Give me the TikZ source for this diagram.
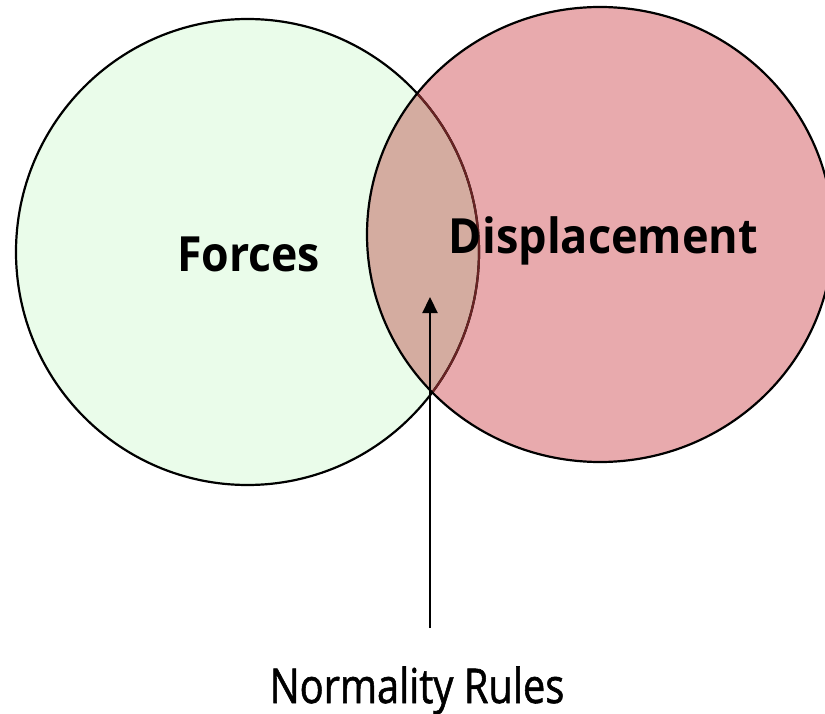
\documentclass[tikz,border=0pt]{standalone}
\usepackage{fontspec}
\setmainfont{Open Sans}
\newfontfamily\notefont[FakeBold=1.3]{Open Sans}
\usetikzlibrary{arrows.meta}
\definecolor{lgreen}{RGB}{234,252,234}
\definecolor{lpink}{RGB}{232,170,173}
\definecolor{lmix}{RGB}{212,172,160}
\definecolor{darc}{RGB}{105,35,35}
\begin{document}
\begin{tikzpicture}[x=1pt,y=-1pt,
  outline/.style={line width=2.2pt},
  biglabel/.style={font=\fontsize{48.5}{50}\selectfont\bfseries, anchor=base, inner sep=0pt},
  notelabel/.style={font=\notefont\fontsize{48}{50}\selectfont, anchor=base, inner sep=0pt},
  pointer/.style={line width=2.2pt, -{Triangle[length=16pt,width=15pt]}}]
\useasboundingbox (0,0) rectangle (825,714);
\def\leftE{(247.5,252) ellipse [x radius=231.5pt, y radius=233pt]}
\def\rightE{(600,234.5) ellipse [x radius=233pt, y radius=227.5pt]}
\fill[lgreen] \leftE;
\fill[lpink] \rightE;
\begin{scope}
  \clip \leftE;
  \fill[lmix] \rightE;
\end{scope}
\draw[outline] \leftE;
\begin{scope}
  \clip \rightE;
  \draw[outline, darc] \leftE;
\end{scope}
\draw[outline] \rightE;
\node[biglabel, xscale=0.92] (forces) at (248.5,271.5) {Forces};
\node[biglabel, xscale=0.93] (disp) at (603.5,254) {Displacement};
\node[notelabel, xscale=0.83] (normality) at (417,703) {Normality Rules};
\coordinate (arrowfoot) at (430,628);
\coordinate (arrowtip) at (430,297);
\draw[pointer] (arrowfoot) -- (arrowtip);
\end{tikzpicture}
\end{document}
